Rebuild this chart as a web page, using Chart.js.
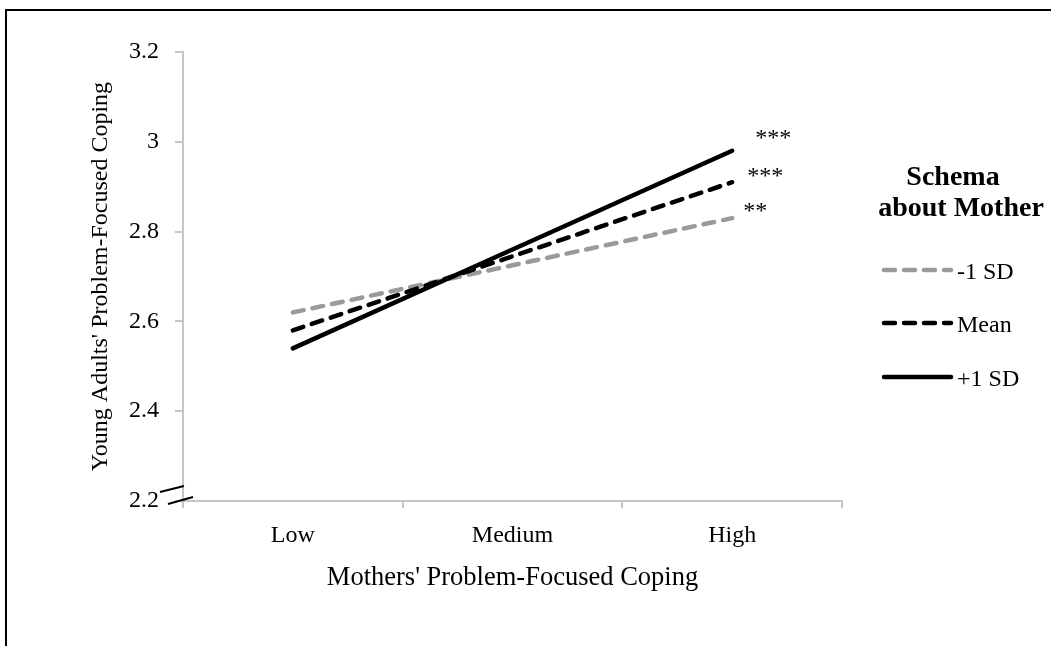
<!DOCTYPE html>
<html><head><meta charset="utf-8">
<script src="https://cdn.jsdelivr.net/npm/chart.js@4.4.0/dist/chart.umd.min.js"></script>
<style>
html,body{margin:0;padding:0;background:#fff;overflow:hidden;}
#wrap{position:relative;width:1051px;height:646px;overflow:hidden;}
#frame{position:absolute;left:5px;top:9px;width:1100px;height:700px;border-left:2px solid #000;border-top:2px solid #000;}
canvas{position:absolute;left:0;top:0;}
</style></head><body>
<div id="wrap"><div id="frame"></div><canvas id="c" width="1051" height="646"></canvas></div>
<script>
// ---- data ----
const categories = ['Low', 'Medium', 'High'];
const seriesNames = ['-1 SD', 'Mean', '+1 SD'];
const minus1SD = [2.62, 2.725, 2.83];
const meanValues = [2.58, 2.745, 2.91];
const plus1SD = [2.54, 2.76, 2.98];
const yTickLabels = ['2.2', '2.4', '2.6', '2.8', '3', '3.2'];
const sigLabels = ['**', '***', '***'];
const legendTitle = ['Schema', 'about Mother'];
const xTitle = "Mothers' Problem-Focused Coping";
const yTitle = "Young Adults' Problem-Focused Coping";

// ---- styles ----
const FONT = "'Liberation Serif', 'Times New Roman', serif";
const AXIS = '#c6c6c6';
const GRAY = '#9a9a9a';
const LW = 4.5;
const DASH = [11, 9];
const styles = [
  {color: GRAY, dash: DASH, sigDx: 11, sigDy: 0},
  {color: '#000', dash: DASH, sigDx: 15, sigDy: 1},
  {color: '#000', dash: [], sigDx: 23, sigDy: -6}
];
const seriesValues = [minus1SD, meanValues, plus1SD];

Chart.defaults.font.family = FONT;
Chart.defaults.font.size = 24;
Chart.defaults.color = '#000';

const datasets = seriesValues.map((vals, i) => ({
  label: seriesNames[i],
  data: vals,
  borderColor: styles[i].color,
  borderWidth: LW,
  borderDash: styles[i].dash,
  borderCapStyle: 'round',
  pointRadius: 0,
  tension: 0,
  fill: false,
  order: 3 - i,
  sig: sigLabels[i]
}));

const overlay = {
  id: 'overlay',
  afterDatasetsDraw(chart) {
    const {ctx, chartArea, scales} = chart;
    const {left, bottom, right} = chartArea;
    ctx.save();
    // axis break marks
    ctx.strokeStyle = '#000';
    ctx.lineWidth = 2;
    ctx.lineCap = 'butt';
    ctx.setLineDash([]);
    ctx.beginPath();
    ctx.moveTo(left - 23, bottom - 9); ctx.lineTo(left + 1, bottom - 15);
    ctx.moveTo(left - 15, bottom + 3); ctx.lineTo(left + 10, bottom - 4);
    ctx.stroke();
    // significance labels
    ctx.font = '24px ' + FONT;
    ctx.fillStyle = '#000';
    ctx.textAlign = 'left';
    ctx.textBaseline = 'alphabetic';
    chart.data.datasets.forEach((ds, i) => {
      const last = ds.data.length - 1;
      const px = scales.x.getPixelForValue(last);
      const py = scales.y.getPixelForValue(ds.data[last]);
      ctx.fillText(ds.sig, px + styles[i].sigDx, py + styles[i].sigDy);
    });
    // legend
    ctx.font = 'bold 28px ' + FONT;
    ctx.textAlign = 'center';
    ctx.fillText(legendTitle[0], right + 111, 185);
    ctx.fillText(legendTitle[1], right + 119, 216);
    const rowY = [270, 323, 377];
    chart.data.datasets.forEach((ds, i) => {
      const yy = rowY[i];
      ctx.strokeStyle = ds.borderColor;
      ctx.lineWidth = LW;
      ctx.lineCap = 'round';
      ctx.setLineDash(ds.borderDash);
      ctx.beginPath();
      ctx.moveTo(right + 42, yy); ctx.lineTo(right + 109, yy);
      ctx.stroke();
      ctx.setLineDash([]);
      ctx.font = '24px ' + FONT;
      ctx.textAlign = 'left';
      ctx.textBaseline = 'middle';
      ctx.fillStyle = '#000';
      ctx.fillText(ds.label, right + 115, yy + 3);
    });
    ctx.restore();
  }
};

new Chart(document.getElementById('c'), {
  type: 'line',
  data: {labels: categories, datasets},
  options: {
    responsive: false,
    animation: false,
    devicePixelRatio: 1,
    layout: {padding: {left: 0, top: 52, right: 209, bottom: 0}},
    plugins: {legend: {display: false}, tooltip: {enabled: false}},
    scales: {
      x: {
        type: 'category',
        offset: true,
        grid: {display: true, drawOnChartArea: false, drawTicks: true, tickLength: 7, color: AXIS, lineWidth: 2, offset: true},
        border: {display: true, color: AXIS, width: 2},
        ticks: {padding: 13, color: '#000', maxRotation: 0, autoSkip: false},
        title: {display: true, text: xTitle, color: '#000', font: {size: 26.5}, padding: {top: 0, bottom: 52}},
        afterFit(s) { s.height = 145; }
      },
      y: {
        min: 2.2, max: 3.2,
        grid: {display: true, drawOnChartArea: false, drawTicks: true, tickLength: 8, color: AXIS, lineWidth: 2},
        border: {display: true, color: AXIS, width: 2},
        ticks: {stepSize: 0.2, padding: 16, color: '#000', callback: (v, i) => yTickLabels[i]},
        title: {display: true, text: yTitle, color: '#000', padding: {top: 86, bottom: 0}},
        afterFit(s) { s.width = 183; }
      }
    }
  },
  plugins: [overlay]
});
</script>
</body></html>
